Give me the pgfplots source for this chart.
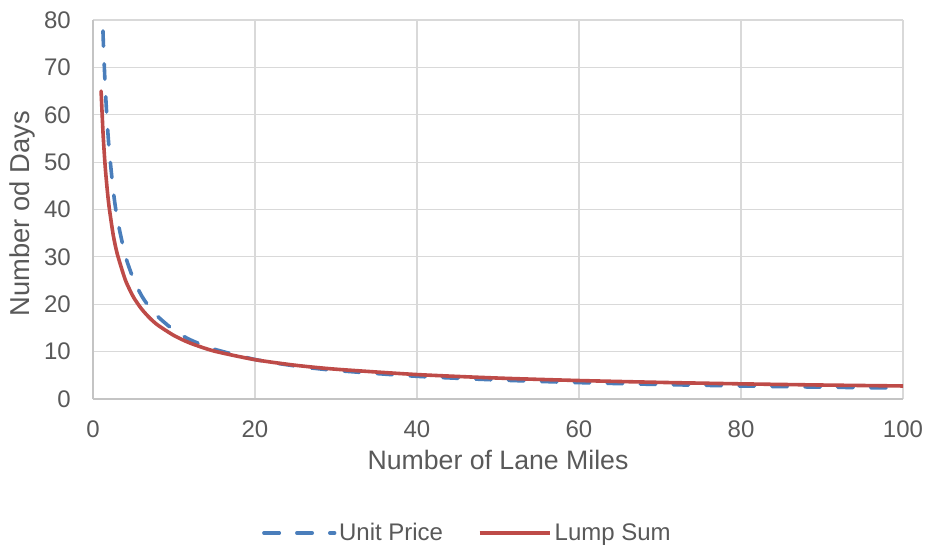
\documentclass[border=0pt]{standalone}
\usepackage{fontspec}
\setmainfont{Liberation Sans}
\usepackage{pgfplots}
\pgfplotsset{compat=1.18}

\definecolor{upblue}{HTML}{4A7EBB}
\definecolor{lsred}{HTML}{BE4B48}
\definecolor{txtgray}{HTML}{595959}
\definecolor{gridgray}{HTML}{D9D9D9}
\definecolor{axgray}{HTML}{C4C4C4}

\tikzset{
  updash/.style={upblue, line width=2.7pt, line cap=round, dash pattern=on 11.5pt off 13.2pt},
  lsline/.style={lsred, line width=2.7pt, line cap=round},
}

\begin{document}
\begin{tikzpicture}
\begin{axis}[
  at={(0,0)}, anchor=south west,
  scale only axis,
  width=607.5pt, height=284.25pt,
  xmin=0, xmax=100, ymin=0, ymax=80,
  xtick={0,20,...,100}, ytick={0,10,...,80},
  major tick length=0pt,
  grid=major,
  major grid style={gridgray, line width=0.9pt},
  axis line style={axgray, line width=0.9pt},
  axis x line*=bottom, axis y line*=left,
  clip=true,
  /pgf/number format/assume math mode=true,
  tick label style={font=\fontsize{18}{21}\selectfont, text=txtgray, inner sep=0pt},
  yticklabel style={anchor=east, xshift=-16.5pt},
  xticklabel style={anchor=base, yshift=-28.5pt},
  xlabel={Number of Lane Miles},
  ylabel={Number od Days},
  xlabel style={font=\fontsize{20}{24}\selectfont, text=txtgray,
    at={(axis description cs:0.5,-0.185)}, anchor=base},
  ylabel style={font=\fontsize{20.5}{24}\selectfont, text=txtgray,
    at={(axis description cs:-0.0778,0.489)}, anchor=base},
  legend columns=2,
  legend style={draw=none, fill=none, font=\fontsize{18}{21}\selectfont, text=txtgray,
    at={(axis description cs:0.4627,-0.3536)}, anchor=center,
    /tikz/every even column/.append style={column sep=24pt}},
  legend cell align=left,
]
% Unit Price
\addplot[updash, smooth, tension=0.4,
  legend image code/.code={\draw[updash] (0pt,0pt) -- (53pt,0pt);}]
coordinates {
(1,91.6) (1.25,76.6) (1.5,66.2) (1.75,58.5) (2,52.6) (2.5,44.0) (3,38.0) (4,30.2)
(5,25.3) (6,21.8) (7,19.3) (8,17.4) (10,14.5) (12,12.5) (15,10.5) (20,8.34)
(25,6.97) (30,6.02) (40,4.79) (50,4.01) (60,3.46) (70,3.06) (80,2.75) (90,2.50) (100,2.30)
};
\addlegendentry{Unit Price}
% Lump Sum
\addplot[lsline, smooth, tension=0.4,
  legend image code/.code={\draw[lsline, line cap=butt] (0pt,0pt) -- (53pt,0pt);}]
coordinates {
(1,65.0) (1.25,55.8) (1.5,49.2) (1.75,44.3) (2,40.4) (2.5,34.6) (3,30.6) (4,25.1)
(5,21.5) (6,19.0) (7,17.1) (8,15.6) (10,13.4) (12,11.8) (15,10.1) (20,8.30)
(25,7.12) (30,6.29) (40,5.16) (50,4.42) (60,3.90) (70,3.51) (80,3.20) (90,2.95) (100,2.75)
};
\addlegendentry{Lump Sum}
\end{axis}
\path[use as bounding box] (-69.75pt,-110.25pt) rectangle (624pt,299.25pt);
\end{tikzpicture}
\end{document}
